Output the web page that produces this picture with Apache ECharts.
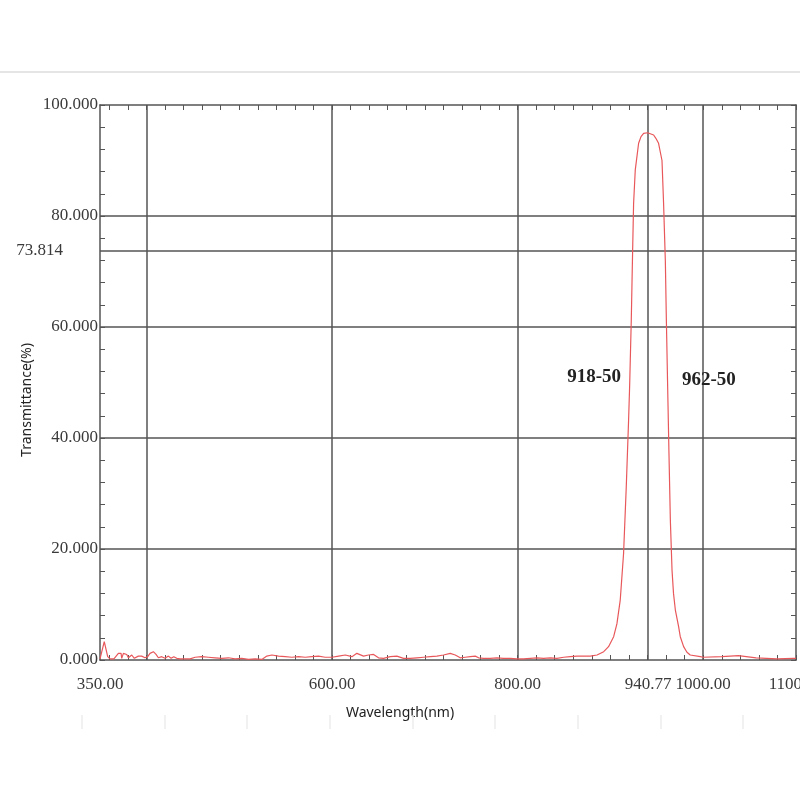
<!DOCTYPE html>
<html>
<head>
<meta charset="utf-8">
<script src="https://cdn.jsdelivr.net/npm/echarts@6/dist/echarts.min.js"></script>
<style>html,body{margin:0;padding:0;background:#fff;}#chart{width:800px;height:800px;}</style>
</head>
<body>
<div id="chart"></div>
<script>
// ---- data ----
var wavelengths = [350, 351.8, 354.6, 356.2, 358.3, 360.8, 365, 369.8, 372.7, 373.4, 375.2, 378.8, 380.6, 384.2, 387, 391.3, 394.9, 398.5, 401.4, 403.9, 407.5, 410.4, 412.9, 416.5, 420.1, 423.7, 426.6, 429.5, 432.7, 436.3, 441.7, 447.1, 452.5, 459.6, 466.8, 474, 481.2, 488.4, 495.6, 502.8, 510, 517.2, 524.4, 529.8, 535.2, 542.4, 549.6, 556.8, 564, 571.1, 578.3, 585.5, 592.7, 600, 607.1, 614.3, 621.5, 626.8, 634, 639.4, 644.8, 650.1, 655.5, 662.7, 669.9, 677.1, 684.3, 691.5, 698.7, 705.9, 713, 720.2, 727.4, 732.8, 738.2, 743.6, 749, 754.4, 758, 763.4, 770.5, 777.7, 784.9, 792.1, 799.3, 806.5, 813.7, 820.9, 828, 835.2, 842.4, 849.6, 856.8, 864, 871.2, 878.4, 885.6, 892.8, 898, 903.5, 907, 910.6, 914.2, 917.1, 919.6, 920.7, 922.5, 923.9, 925, 926.8, 930.4, 933, 935.8, 940.1, 946.6, 949, 951.9, 955.6, 957.3, 959.2, 960.3, 961.7, 963.1, 964.6, 966.4, 968, 970, 973.5, 975.3, 978.9, 982.5, 986, 996.9, 1000, 1020, 1038, 1057, 1079.6, 1097, 1100];
var transmittance = [0.2, 0.3, 3.3, 3.3, 0.6, 0.2, 0.2, 1.2, 1.2, 0.3, 1.2, 1.0, 0.4, 0.9, 0.3, 0.7, 0.7, 0.4, 0.6, 1.2, 1.5, 1.0, 0.4, 0.6, 0.3, 0.7, 0.3, 0.6, 0.3, 0.2, 0.2, 0.2, 0.5, 0.6, 0.5, 0.4, 0.3, 0.4, 0.2, 0.3, 0.1, 0.2, 0.1, 0.7, 0.9, 0.7, 0.6, 0.5, 0.6, 0.5, 0.6, 0.7, 0.5, 0.5, 0.7, 0.9, 0.6, 1.2, 0.7, 0.9, 1.0, 0.4, 0.3, 0.6, 0.7, 0.3, 0.3, 0.4, 0.5, 0.6, 0.7, 0.9, 1.2, 0.9, 0.4, 0.5, 0.6, 0.7, 0.4, 0.3, 0.3, 0.4, 0.3, 0.3, 0.2, 0.2, 0.3, 0.4, 0.3, 0.4, 0.3, 0.5, 0.6, 0.7, 0.7, 0.7, 0.9, 1.5, 2.4, 4.2, 6.5, 10.8, 19.2, 31.2, 43.2, 49.2, 61.3, 73.3, 82.3, 88.3, 93.1, 94.3, 94.9, 95.0, 94.6, 94.0, 93.1, 90, 82.3, 72, 61.3, 49.2, 37.3, 25.2, 16.2, 12, 9, 6, 4.2, 2.4, 1.4, 0.9, 0.6, 0.5, 0.6, 0.8, 0.4, 0.2, 0.3, 0.3];

var xLabelValues = [350, 600, 800, 940.77, 1000, 1100];
var xGridValues = [400, 600, 800, 940.77, 1000];
var yLabelValues = [0, 20, 40, 60, 80, 100];
var yGridValues = [20, 40, 60, 80];
var markedLevel = 73.814;
var annotations = [{text: '918-50', x: 918, y: 51}, {text: '962-50', x: 962, y: 50}];

// ---- build ----
var seriesData = wavelengths.map(function (w, i) { return [w, transmittance[i]]; });
var xMinorTicks = [];
for (var t = 360; t <= 1100; t += 20) xMinorTicks.push(t);

var axisColor = '#555';
var labelFont = {fontFamily: 'Liberation Serif', fontSize: 17, color: '#3a3a3a'};

var markData = [];
xGridValues.forEach(function (v) { markData.push({xAxis: v, label: {show: false}}); });
yGridValues.forEach(function (v) { markData.push({yAxis: v, label: {show: false}}); });
markData.push({
  yAxis: markedLevel,
  label: {show: true, position: 'start', distance: 37, formatter: markedLevel.toFixed(3),
    fontFamily: 'Liberation Serif', fontSize: 17, color: '#3a3a3a'}
});

var chart = echarts.init(document.getElementById('chart'));
chart.setOption({
  animation: false,
  backgroundColor: '#fff',
  grid: {left: 100, top: 105, width: 696, height: 555, containLabel: false, outerBoundsMode: 'none'},
  xAxis: [{
    type: 'value', min: 350, max: 1100, position: 'bottom',
    axisLine: {show: true, lineStyle: {color: axisColor, width: 1.5}},
    axisTick: {show: true, inside: true, length: 5, customValues: xMinorTicks, lineStyle: {color: axisColor, width: 1}},
    axisLabel: Object.assign({show: true, margin: 16, customValues: xLabelValues, hideOverlap: false,
      formatter: function (v) { return Number(v).toFixed(2); }}, labelFont),
    splitLine: {show: false}
  }, {
    type: 'value', min: 350, max: 1100, position: 'top',
    axisLine: {show: true, onZero: false, lineStyle: {color: axisColor, width: 1.5}},
    axisTick: {show: true, inside: true, length: 5, customValues: xMinorTicks, lineStyle: {color: axisColor, width: 1}},
    axisLabel: {show: false},
    splitLine: {show: false}
  }],
  yAxis: [{
    type: 'value', min: 0, max: 100, interval: 4, position: 'left',
    axisLine: {show: true, lineStyle: {color: axisColor, width: 1.5}},
    axisTick: {show: true, inside: true, length: 5, lineStyle: {color: axisColor, width: 1}},
    axisLabel: Object.assign({show: true, margin: 2, customValues: yLabelValues,
      formatter: function (v) { return Number(v).toFixed(3); }}, labelFont),
    splitLine: {show: false}
  }, {
    type: 'value', min: 0, max: 100, interval: 4, position: 'right',
    axisLine: {show: true, onZero: false, lineStyle: {color: axisColor, width: 1.5}},
    axisTick: {show: true, inside: true, length: 5, lineStyle: {color: axisColor, width: 1}},
    axisLabel: {show: false},
    splitLine: {show: false}
  }],
  series: [{
    type: 'line',
    xAxisIndex: 0, yAxisIndex: 0,
    data: seriesData,
    showSymbol: false,
    symbol: 'none',
    lineStyle: {color: '#e8585b', width: 1.2},
    z: 3,
    markLine: {
      silent: true,
      symbol: ['none', 'none'],
      lineStyle: {color: axisColor, width: 1.5, type: 'solid'},
      data: markData,
      z: 2
    },
    markPoint: {
      silent: true,
      symbol: 'rect', symbolSize: 1,
      itemStyle: {color: 'rgba(0,0,0,0)'},
      label: {show: true, position: 'inside', fontFamily: 'Liberation Serif', fontWeight: 'bold', fontSize: 19, color: '#222',
        formatter: function (p) { return p.name; }},
      data: annotations.map(function (a, i) {
        return {name: a.text, coord: [a.x, a.y], label: {offset: i === 0 ? [-33, 0] : [41, -2]}};
      })
    }
  }],
  graphic: [
    {type: 'line', shape: {x1: 0, y1: 72, x2: 800, y2: 72}, style: {stroke: '#dcdcdc', lineWidth: 1.5}, silent: true},
    {type: 'text', x: 27, y: 400, rotation: Math.PI / 2,
      style: {text: 'Transmittance(%)', font: '14px "Noto Sans"', fill: '#222', textAlign: 'center', textVerticalAlign: 'middle'}},
    {type: 'text', x: 400, y: 713,
      style: {text: 'Wavelength(nm)', font: '14px "Noto Sans"', fill: '#222', textAlign: 'center', textVerticalAlign: 'middle'}}
  ].concat([82, 165, 247, 330, 413, 495, 578, 661, 743].map(function (x) {
    return {type: 'line', shape: {x1: x, y1: 715, x2: x, y2: 729}, style: {stroke: '#ececec', lineWidth: 1.5}, silent: true};
  }))
});
</script>
</body>
</html>
